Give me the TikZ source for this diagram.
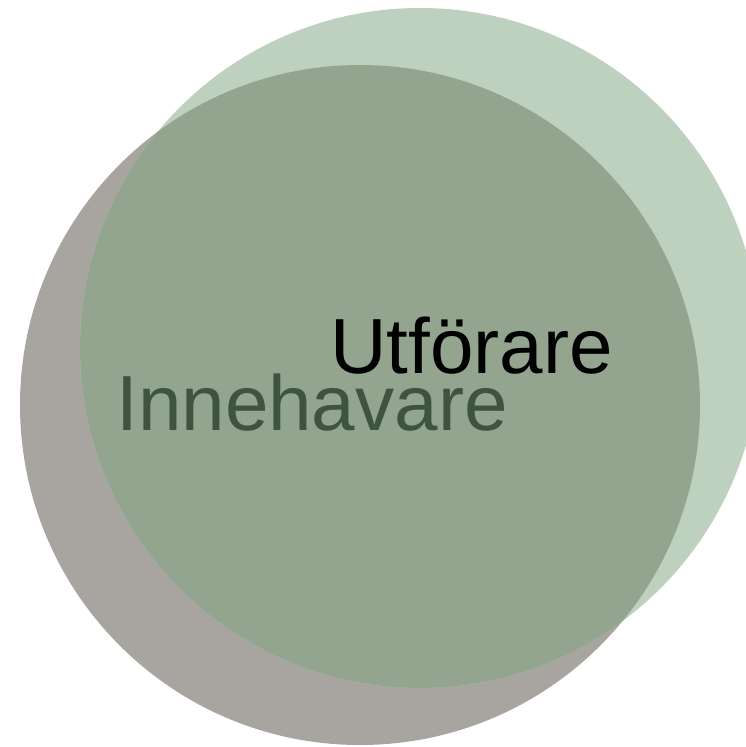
\documentclass[tikz,border=0pt]{standalone}
\usepackage{fontspec}
\setmainfont{Liberation Sans}
\definecolor{graycirc}{HTML}{A8A49F}
\definecolor{greencirc}{HTML}{BDD1BE}
\definecolor{overlap}{HTML}{93A58E}
\definecolor{darkgreen}{HTML}{3E5441}
\tikzset{
  label text/.style = {anchor = base west, inner sep = 0pt, font = \fontsize{44.5}{44.5}\selectfont}
}
\begin{document}
\begin{tikzpicture} [x = 0.02cm, y = -0.02cm]
	\useasboundingbox (0,0) rectangle (746,747);
	%\draw [red] (0,0) rectangle (746,747);
	\fill [graycirc] (360,405) circle (340);
	\fill [greencirc] (420,348) circle (340);
	\begin{scope}
		\clip (360,405) circle (340);
		\fill [overlap] (420,348) circle (340);
	\end{scope}
	\node [label text] (utf) at (330,373) {Utförare};
	\node [label text, text = darkgreen] (inne) at (116,430) {Innehavare};
\end{tikzpicture}
\end{document}
